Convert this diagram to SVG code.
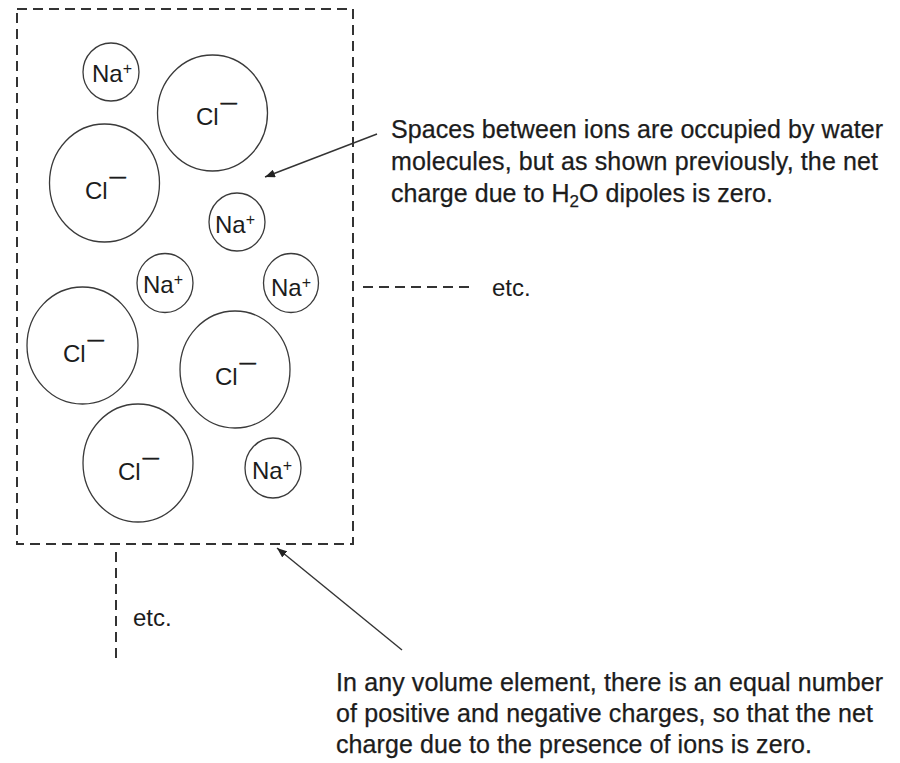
<svg xmlns="http://www.w3.org/2000/svg" width="900" height="763" viewBox="0 0 900 763">
  <style>
    .ion { fill: none; stroke: #3a3a3a; stroke-width: 1.3; }
    .lbl { font-family: "Liberation Sans", Arial, sans-serif; font-size: 24px; fill: #1c1c1c; }
    .sup { font-size: 16px; }
    .bar { font-size: 16px; stroke: #1c1c1c; stroke-width: 0.7; }
    .note { font-family: "Liberation Sans", Arial, sans-serif; font-size: 25px; fill: #1c1c1c; stroke: #1c1c1c; stroke-width: 0.25; }
    .dash { fill: none; stroke: #333; stroke-width: 2; stroke-dasharray: 10 6; }
    .arrow { fill: none; stroke: #333; stroke-width: 1.4; }
  </style>
  <defs>
    <marker id="head" viewBox="0 0 10 8" refX="10" refY="4" markerWidth="10" markerHeight="8" markerUnits="userSpaceOnUse" orient="auto">
      <path d="M0,0 L10,4 L0,8 Z" fill="#222"/>
    </marker>
  </defs>
  <rect width="900" height="763" fill="#fff"/>

  <!-- volume element boundary and its continuation marks -->
  <g id="volume-element">
    <rect class="dash" x="17" y="9" width="336" height="535"/>
    <line class="dash" x1="363" y1="287" x2="470" y2="287"/>
    <line class="dash" x1="116" y1="552" x2="116" y2="660"/>
    <text class="lbl" x="492" y="296">etc.</text>
    <text class="lbl" x="133" y="626">etc.</text>
  </g>

  <!-- sodium ions -->
  <g id="na-1"><ellipse class="ion" cx="111" cy="72" rx="28" ry="29"/><text class="lbl" x="92" y="82">Na<tspan class="sup" dy="-8">+</tspan></text></g>
  <g id="na-2"><ellipse class="ion" cx="237" cy="222" rx="28" ry="29"/><text class="lbl" x="215" y="233">Na<tspan class="sup" dy="-8">+</tspan></text></g>
  <g id="na-3"><ellipse class="ion" cx="165" cy="283" rx="28" ry="29.5"/><text class="lbl" x="143" y="293">Na<tspan class="sup" dy="-8">+</tspan></text></g>
  <g id="na-4"><ellipse class="ion" cx="291" cy="283" rx="27.5" ry="29.5"/><text class="lbl" x="271" y="296">Na<tspan class="sup" dy="-8">+</tspan></text></g>
  <g id="na-5"><ellipse class="ion" cx="273" cy="468" rx="28" ry="30"/><text class="lbl" x="252" y="479">Na<tspan class="sup" dy="-8">+</tspan></text></g>

  <!-- chloride ions -->
  <g id="cl-1"><ellipse class="ion" cx="212.5" cy="113" rx="55" ry="58"/><text class="lbl" x="196" y="125">Cl<tspan class="bar" dx="2" dy="-17">—</tspan></text></g>
  <g id="cl-2"><ellipse class="ion" cx="104.5" cy="183" rx="55" ry="59"/><text class="lbl" x="85" y="199">Cl<tspan class="bar" dx="2" dy="-17">—</tspan></text></g>
  <g id="cl-3"><ellipse class="ion" cx="82.5" cy="345.5" rx="55.5" ry="58.5"/><text class="lbl" x="63" y="362">Cl<tspan class="bar" dx="2" dy="-17">—</tspan></text></g>
  <g id="cl-4"><ellipse class="ion" cx="235" cy="369.5" rx="55" ry="58.5"/><text class="lbl" x="215" y="385">Cl<tspan class="bar" dx="2" dy="-17">—</tspan></text></g>
  <g id="cl-5"><ellipse class="ion" cx="138" cy="463" rx="55" ry="59"/><text class="lbl" x="118" y="480">Cl<tspan class="bar" dx="2" dy="-17">—</tspan></text></g>

  <!-- callout arrows -->
  <g id="connectors">
    <line class="arrow" x1="377" y1="134" x2="265" y2="177" marker-end="url(#head)"/>
    <line class="arrow" x1="402" y1="650" x2="277" y2="548" marker-end="url(#head)"/>
  </g>

  <!-- explanatory notes -->
  <g id="note-water">
    <text class="note" x="391" y="138" textLength="492" lengthAdjust="spacing">Spaces between ions are occupied by water</text>
    <text class="note" x="391" y="170" textLength="487" lengthAdjust="spacing">molecules, but as shown previously, the net</text>
    <text class="note" x="391" y="202" textLength="382" lengthAdjust="spacing">charge due to H<tspan font-size="17" dy="5">2</tspan><tspan dy="-5">O dipoles is zero.</tspan></text>
  </g>
  <g id="note-charge">
    <text class="note" x="336" y="691" textLength="547" lengthAdjust="spacing">In any volume element, there is an equal number</text>
    <text class="note" x="336" y="722" textLength="537" lengthAdjust="spacing">of positive and negative charges, so that the net</text>
    <text class="note" x="336" y="753" textLength="476" lengthAdjust="spacing">charge due to the presence of ions is zero.</text>
  </g>
</svg>
